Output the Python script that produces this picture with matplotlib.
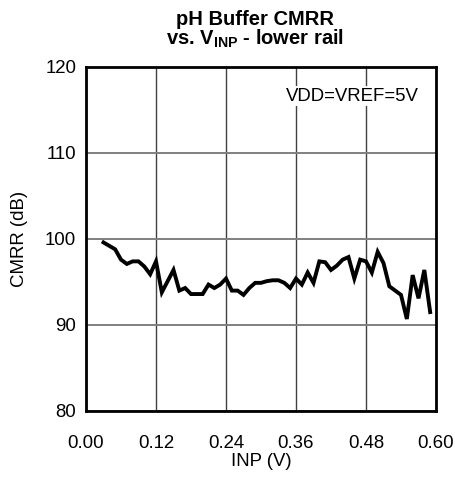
import matplotlib
matplotlib.use("Agg")
from matplotlib import pyplot as plt

plt.rcParams['font.family'] = ['Liberation Sans', 'DejaVu Sans']
plt.rcParams['mathtext.fontset'] = 'custom'
plt.rcParams['mathtext.rm'] = 'Liberation Sans'
plt.rcParams['mathtext.bf'] = 'Liberation Sans:bold'

inp_v = [0.03, 0.04, 0.05, 0.06, 0.07, 0.08, 0.09, 0.10, 0.11, 0.12,
         0.13, 0.14, 0.15, 0.16, 0.17, 0.18, 0.19, 0.20, 0.21, 0.22,
         0.23, 0.24, 0.25, 0.26, 0.27, 0.28, 0.29, 0.30, 0.31, 0.32,
         0.33, 0.34, 0.35, 0.36, 0.37, 0.38, 0.39, 0.40, 0.41, 0.42,
         0.43, 0.44, 0.45, 0.46, 0.47, 0.48, 0.49, 0.50, 0.51, 0.52,
         0.53, 0.54, 0.55, 0.56, 0.57, 0.58, 0.59]
cmrr_db = [99.6, 99.2, 98.8, 97.6, 97.1, 97.4, 97.4, 96.8, 95.9, 97.4,
           93.8, 95.1, 96.4, 94.0, 94.3, 93.6, 93.6, 93.6, 94.7, 94.3,
           94.7, 95.4, 94.0, 94.0, 93.5, 94.3, 94.9, 94.9, 95.1, 95.2,
           95.2, 94.9, 94.3, 95.4, 94.7, 96.1, 94.9, 97.4, 97.3, 96.4,
           96.9, 97.6, 97.9, 95.4, 97.6, 97.4, 96.1, 98.5, 97.2, 94.5,
           94.0, 93.5, 90.7, 95.8, 93.1, 96.4, 91.5]

xticks = [0.00, 0.12, 0.24, 0.36, 0.48, 0.60]
yticks = [80, 90, 100, 110, 120]

fig = plt.figure(figsize=(4.56, 4.83), dpi=100)
ax = fig.add_axes([86 / 456, 72 / 483, 350 / 456, 344 / 483])

ax.plot(inp_v, cmrr_db, color='black', lw=2.8, solid_joinstyle='miter')

ax.set_xlim(0, 0.60)
ax.set_ylim(80, 120)
ax.set_xticks(xticks)
ax.set_xticklabels(['%.2f' % t for t in xticks])
ax.set_yticks(yticks)
ax.tick_params(length=0, labelsize=13.4)
ax.tick_params(axis='x', pad=17.5)
ax.tick_params(axis='y', pad=7)
ax.grid(True, axis='x', color='#404040', lw=1.0)
ax.grid(True, axis='y', color='#808080', lw=1.4)
for s in ax.spines.values():
    s.set_linewidth(2)
    s.set_color('black')

ax.set_xlabel('INP (V)', fontsize=13.4, labelpad=0.5)
ax.set_ylabel('CMRR (dB)', fontsize=13.4, labelpad=12)

ax.text(0.342, 116.6, 'VDD=VREF=5V', fontsize=13.4, ha='left', va='center',
        bbox=dict(facecolor='white', edgecolor='none', pad=1))

# two-line bold title, subscript via mathtext
fig.text(0.559, 0.979, 'pH Buffer CMRR\n' + r'vs. $\mathbf{V_{INP}}$ - lower rail',
         fontsize=14.5, fontweight='bold', ha='center', va='top',
         multialignment='center', linespacing=0.9)

fig.savefig('out.png', dpi=100)
